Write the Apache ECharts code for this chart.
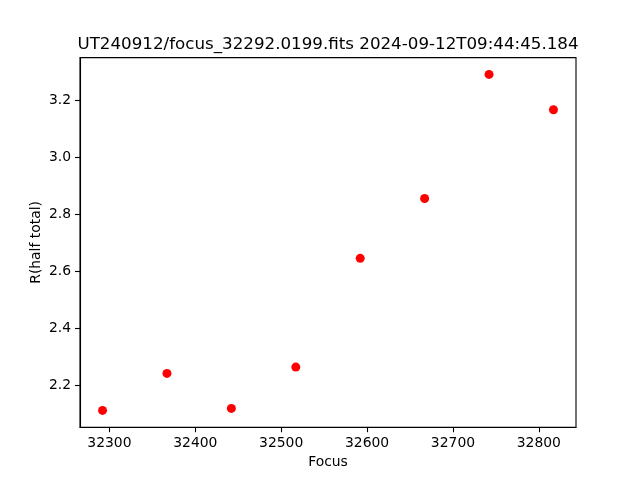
<!DOCTYPE html>
<html>
<head>
<meta charset="utf-8">
<script src="https://cdn.jsdelivr.net/npm/echarts@6/dist/echarts.min.js"></script>
<style>html,body{margin:0;padding:0;background:#fff}#c{width:640px;height:480px}</style>
</head>
<body>
<div id="c"></div>
<script>
const titleText = 'UT240912/focus_32292.0199.fits 2024-09-12T09:44:45.184';
const focus = [32292, 32367, 32442, 32517, 32592, 32667, 32742, 32817];
const rHalf = [2.111, 2.241, 2.118, 2.263, 2.645, 2.855, 3.291, 3.167];
const xTicks = [32300, 32400, 32500, 32600, 32700, 32800];
const yTicks = [2.2, 2.4, 2.6, 2.8, 3.0, 3.2];

function lim(arr) {
  const a = Math.min(...arr), b = Math.max(...arr), w = b - a;
  return [a - 0.05 * w, b + 0.05 * w];
}
const xl = lim(focus), yl = lim(rHalf);
const font = 'DejaVu Sans';
const chart = echarts.init(document.getElementById('c'), null, {renderer: 'canvas'});
chart.setOption({
  animation: false,
  backgroundColor: '#fff',
  title: {
    text: titleText, left: 328, top: 36, textAlign: 'center', padding: 0,
    textStyle: {fontFamily: font, fontSize: 16.7, fontWeight: 'normal', color: '#000'}
  },
  grid: {left: 80, right: 64, top: 57.6, bottom: 52.8, show: true, borderColor: '#000', borderWidth: 1.1, backgroundColor: 'transparent'},
  xAxis: {
    type: 'value', min: xl[0], max: xl[1],
    name: 'Focus', nameLocation: 'middle', nameGap: 28, nameMoveOverlap: false,
    nameTextStyle: {fontFamily: font, fontSize: 13.9, color: '#000'},
    axisLine: {show: true, lineStyle: {color: '#000', width: 1.1}},
    axisTick: {show: true, inside: false, length: 5, lineStyle: {color: '#000', width: 1.1}, customValues: xTicks},
    axisLabel: {fontFamily: font, fontSize: 13.9, color: '#000', margin: 9, customValues: xTicks,
      formatter: v => String(Math.round(v))},
    splitLine: {show: false}
  },
  yAxis: {
    type: 'value', min: yl[0], max: yl[1],
    name: 'R(half total)', nameLocation: 'middle', nameGap: 37, nameRotate: 90, nameMoveOverlap: false,
    nameTextStyle: {fontFamily: font, fontSize: 13.9, color: '#000'},
    axisLine: {show: true, lineStyle: {color: '#000', width: 1.1}},
    axisTick: {show: true, inside: false, length: 5, lineStyle: {color: '#000', width: 1.1}, customValues: yTicks},
    axisLabel: {fontFamily: font, fontSize: 13.9, color: '#000', margin: 9, customValues: yTicks,
      formatter: v => v.toFixed(1)},
    splitLine: {show: false}
  },
  series: [{
    type: 'scatter',
    data: focus.map((f, i) => [f, rHalf[i]]),
    symbol: 'circle', symbolSize: 9,
    itemStyle: {color: '#ff0000', opacity: 1}
  }]
});
</script>
</body>
</html>
